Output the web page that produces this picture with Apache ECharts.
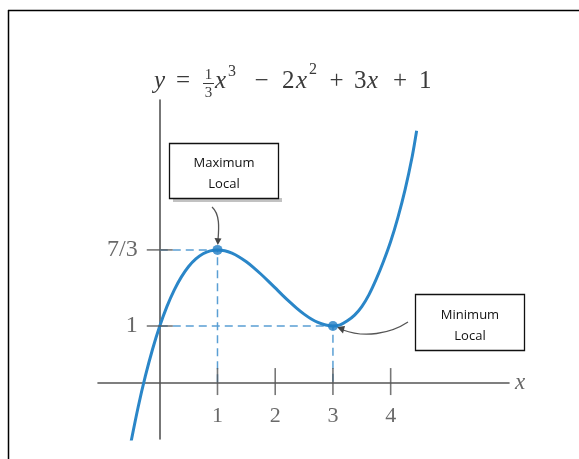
<!DOCTYPE html>
<html>
<head>
<meta charset="utf-8">
<script src="https://cdn.jsdelivr.net/npm/echarts@6/dist/echarts.min.js"></script>
<style>
  html, body { margin: 0; padding: 0; background: #fff; }
  #chart { width: 579px; height: 459px; }
</style>
</head>
<body>
<div id="chart"></div>
<script>
// curve points
const curveX = [-0.5, -0.375, -0.25, -0.125, 0, 0.125, 0.25, 0.375, 0.5, 0.625, 0.75, 0.875, 1, 1.125, 1.25, 1.375,
  1.5, 1.625, 1.75, 1.875, 2, 2.125, 2.25, 2.375, 2.5, 2.625, 2.75, 2.875, 3, 3.125, 3.25, 3.375,
  3.5, 3.625, 3.75, 3.875, 4, 4.125, 4.25, 4.375, 4.45]
const curveY = [-1.042, -0.424, 0.12, 0.593, 1, 1.344, 1.63, 1.861, 2.042, 2.175, 2.266, 2.317, 2.333, 2.318, 2.276, 2.21,
  2.125, 2.024, 1.911, 1.791, 1.667, 1.542, 1.422, 1.309, 1.208, 1.123, 1.06, 1.018, 1, 1.02, 1.09, 1.19,
  1.34, 1.55, 1.82, 2.13, 2.48, 2.9, 3.39, 3.98, 4.42]

// local extrema
const extremaX = [1, 3]
const extremaY = [7 / 3, 1]

// tick values and labels
const xTicks = [1, 2, 3, 4]
const xTickLabels = ['1', '2', '3', '4']
const yTicks = [7 / 3, 1]
const yTickLabels = ['7/3', '1']

const serif = '"Liberation Serif", "DejaVu Serif", serif'
const sans = '"Open Sans", "Liberation Sans", sans-serif'
const curveColor = '#2a86c8'
const dashColor = '#5a9fd4'
const axisColor = '#555'
const eqColor = '#3a3a3a'

const chart = echarts.init(document.getElementById('chart'))

const curveData = curveX.map((x, i) => [x, curveY[i]])
const dashData = extremaX.map((x, i) => [[0, extremaY[i]], [x, extremaY[i]], [x, 0]])

const series = []
dashData.forEach(d => {
  series.push({
    type: 'line',
    data: d,
    showSymbol: false,
    silent: true,
    z: 1,
    lineStyle: { color: dashColor, width: 1.5, type: [8, 5] }
  })
})
series.push({
  type: 'line',
  data: curveData,
  smooth: 0.3,
  showSymbol: false,
  z: 3,
  lineStyle: { color: curveColor, width: 3 }
})
// x ticks crossing the axis
series.push({
  type: 'scatter',
  data: xTicks.map(v => [v, 0]),
  symbol: 'rect',
  symbolSize: [1.6, 27],
  symbolOffset: [0, -1.5],
  itemStyle: { color: axisColor },
  z: 4,
  label: {
    show: true,
    position: 'bottom',
    distance: 10,
    formatter: p => xTickLabels[p.dataIndex],
    fontFamily: serif,
    fontSize: 22,
    color: '#444'
  }
})
// y ticks crossing the axis
series.push({
  type: 'scatter',
  data: yTicks.map(v => [0, v]),
  symbol: 'rect',
  symbolSize: [26, 1.6],
  itemStyle: { color: axisColor },
  z: 4,
  label: {
    show: true,
    position: 'left',
    distance: 9,
    formatter: p => yTickLabels[p.dataIndex],
    fontFamily: serif,
    fontSize: 24,
    color: '#444'
  }
})
series.push({
  type: 'scatter',
  data: extremaX.map((x, i) => [x, extremaY[i]]),
  symbolSize: 10,
  itemStyle: { color: '#1f7dc4' },
  z: 5
})

// equation pieces: [text, x, y, size, italic, align]
const eq = [
  ['y', 154, 81.5, 25, true, 'left'],
  ['=', 183, 81.5, 25, false, 'center'],
  ['1', 208.5, 75, 15, false, 'center'],
  ['3', 208.5, 93, 15, false, 'center'],
  ['x', 215, 81.5, 25, true, 'left'],
  ['3', 228, 71.5, 16, false, 'left'],
  ['−', 261.5, 81.5, 25, false, 'center'],
  ['2', 282, 81.5, 25, false, 'left'],
  ['x', 296, 81.5, 25, true, 'left'],
  ['2', 309, 69.5, 16, false, 'left'],
  ['+', 336.5, 81.5, 25, false, 'center'],
  ['3', 354, 81.5, 25, false, 'left'],
  ['x', 367, 81.5, 25, true, 'left'],
  ['+', 400, 81.5, 25, false, 'center'],
  ['1', 419, 81.5, 25, false, 'left']
]
const eqGraphics = eq.map(e => ({
  type: 'text', x: e[1], y: e[2],
  style: {
    text: e[0], fontFamily: serif, fontSize: e[3], fontStyle: e[4] ? 'italic' : 'normal',
    fill: eqColor, align: e[5], verticalAlign: 'middle'
  }
}))
eqGraphics.push({ type: 'line', shape: { x1: 203, y1: 83.5, x2: 214, y2: 83.5 }, style: { stroke: eqColor, lineWidth: 1 } })

chart.setOption({
  animation: false,
  grid: { left: 98, right: 70, top: 100, bottom: 20 },
  xAxis: {
    type: 'value',
    min: -1.07,
    max: 6.05,
    name: 'x',
    nameLocation: 'end',
    nameGap: 6,
    nameTextStyle: { fontFamily: serif, fontStyle: 'italic', fontSize: 23, color: '#666' },
    axisLine: { show: true, onZero: true, lineStyle: { color: axisColor, width: 1.6 } },
    axisTick: { show: false },
    axisLabel: { show: false },
    splitLine: { show: false }
  },
  yAxis: {
    type: 'value',
    min: -0.98,
    max: 4.96,
    axisLine: { show: true, onZero: true, lineStyle: { color: axisColor, width: 1.6 } },
    axisTick: { show: false },
    axisLabel: { show: false },
    splitLine: { show: false }
  },
  series: series,
  graphic: [
    // frame
    { type: 'line', shape: { x1: 8, y1: 10.5, x2: 579, y2: 10.5 }, style: { stroke: '#000', lineWidth: 1.5 } },
    { type: 'line', shape: { x1: 8.5, y1: 10, x2: 8.5, y2: 459 }, style: { stroke: '#000', lineWidth: 1.5 } },
    ...eqGraphics,
    // maximum box
    { type: 'rect', shape: { x: 173, y: 198, width: 109, height: 4 }, style: { fill: '#999', opacity: 0.6 } },
    { type: 'rect', shape: { x: 169.5, y: 143.5, width: 109, height: 55 }, style: { fill: '#fff', stroke: '#111', lineWidth: 1.3 } },
    { type: 'text', x: 224, y: 163, style: { text: 'Maximum', fontFamily: sans, fontSize: 13, fill: '#111', align: 'center', verticalAlign: 'middle' } },
    { type: 'text', x: 224, y: 184, style: { text: 'Local', fontFamily: sans, fontSize: 13, fill: '#111', align: 'center', verticalAlign: 'middle' } },
    { type: 'bezierCurve', shape: { x1: 212, y1: 207, cpx1: 220, cpy1: 214, cpx2: 219, cpy2: 228, x2: 218, y2: 240 }, style: { stroke: '#555', lineWidth: 1.3, fill: null } },
    { type: 'polygon', shape: { points: [[214.5, 238], [221.5, 238.5], [217.8, 245]] }, style: { fill: '#444' } },
    // minimum box
    { type: 'rect', shape: { x: 415.5, y: 294.5, width: 109, height: 56 }, style: { fill: '#fff', stroke: '#111', lineWidth: 1.3 } },
    { type: 'text', x: 470, y: 315, style: { text: 'Minimum', fontFamily: sans, fontSize: 13, fill: '#111', align: 'center', verticalAlign: 'middle' } },
    { type: 'text', x: 470, y: 336, style: { text: 'Local', fontFamily: sans, fontSize: 13, fill: '#111', align: 'center', verticalAlign: 'middle' } },
    { type: 'bezierCurve', shape: { x1: 408, y1: 322, cpx1: 390, cpy1: 334, cpx2: 364, cpy2: 338, x2: 343, y2: 330 }, style: { stroke: '#555', lineWidth: 1.3, fill: null } },
    { type: 'polygon', shape: { points: [[345, 326], [343, 333.5], [337, 327]] }, style: { fill: '#444' } }
  ]
})
</script>
</body>
</html>
